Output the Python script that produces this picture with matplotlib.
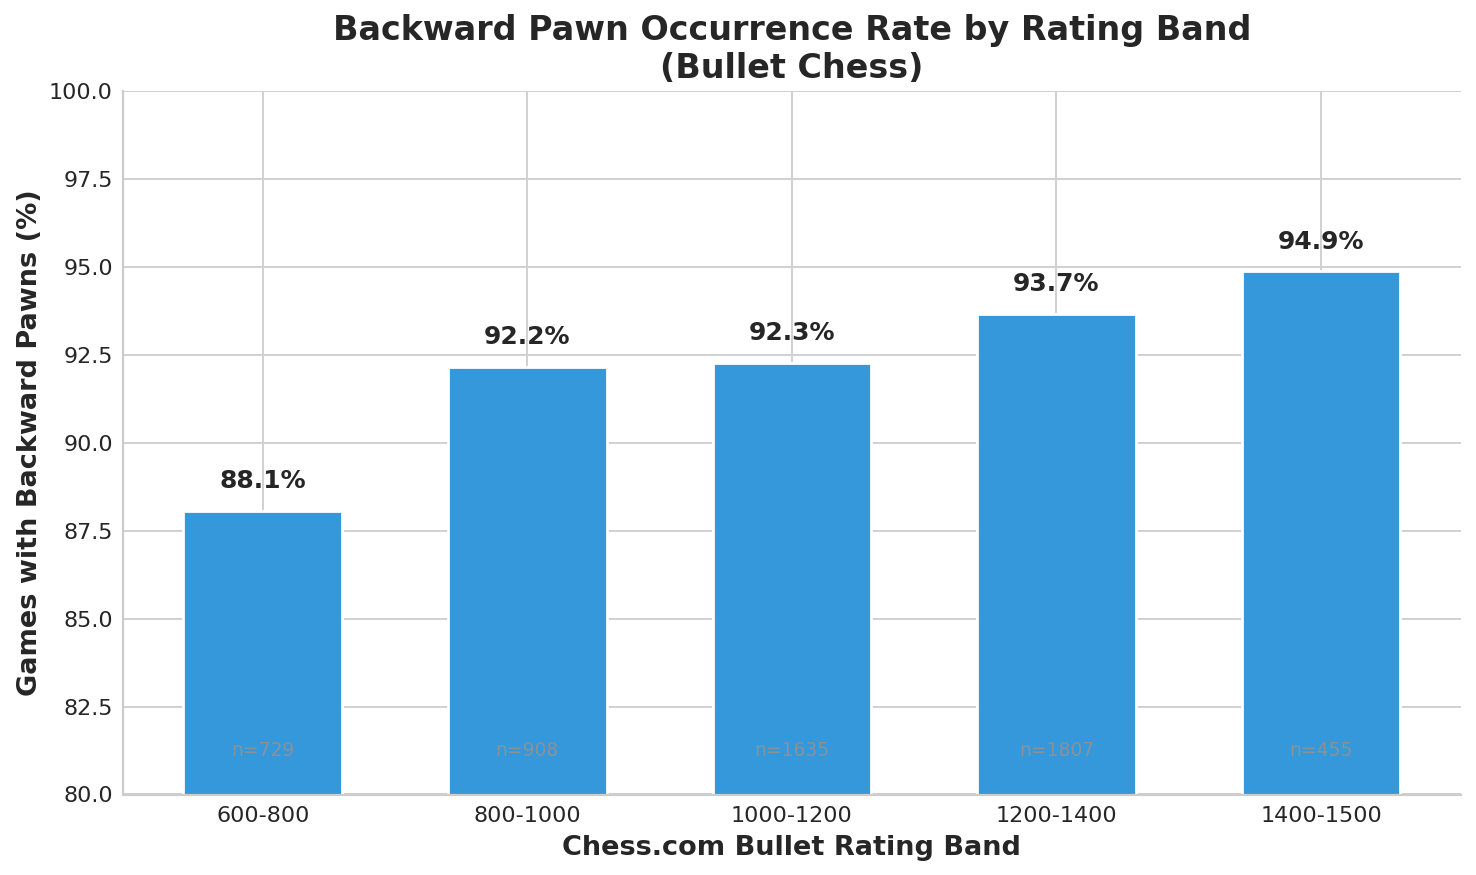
import matplotlib
matplotlib.use("Agg")
import matplotlib.pyplot as plt
import seaborn as sns

# data
bands = ['600-800', '800-1000', '1000-1200', '1200-1400', '1400-1500']
rates = [88.07, 92.16, 92.27, 93.66, 94.87]
counts = [729, 908, 1635, 1807, 455]

sns.set_style("whitegrid")
plt.rcParams['font.family'] = ['DejaVu Sans']
plt.rcParams['grid.linewidth'] = 1.4
plt.rcParams['grid.color'] = '#d0d0d0'
plt.rcParams['axes.linewidth'] = 1.6
plt.rcParams['axes.edgecolor'] = '#cccccc'

fig, ax = plt.subplots(figsize=(14.76, 8.75), dpi=100)

x = range(len(bands))
bars = ax.bar(x, rates, width=0.6, color='#3498db', edgecolor='white', linewidth=2)

# labels on top of bars and sample size inside
for i, b in enumerate(bars):
    h = b.get_height()
    ax.text(b.get_x() + b.get_width() / 2, h + 0.5, f'{h:.1f}%',
            ha='center', va='bottom', fontsize=18, fontweight='bold', color='#262626')
    ax.text(b.get_x() + b.get_width() / 2, 81.25, f'n={counts[i]}',
            ha='center', va='center', fontsize=13.5, color='#8a9298')

ax.set_xticks(list(x))
ax.set_xticklabels(bands)
ax.set_ylim(80, 100)
ax.tick_params(axis='both', labelsize=16)
ax.tick_params(axis='x', pad=5)

ax.set_xlabel('Chess.com Bullet Rating Band', fontsize=19.5, fontweight='bold', labelpad=6)
ax.set_ylabel('Games with Backward Pawns (%)', fontsize=19.5, fontweight='bold')
ax.set_title('Backward Pawn Occurrence Rate by Rating Band\n(Bullet Chess)',
             fontsize=24, fontweight='bold', pad=9)

sns.despine(ax=ax)

fig.subplots_adjust(left=0.083, right=0.99, top=0.896, bottom=0.092)
fig.savefig('out.png', dpi=100)
